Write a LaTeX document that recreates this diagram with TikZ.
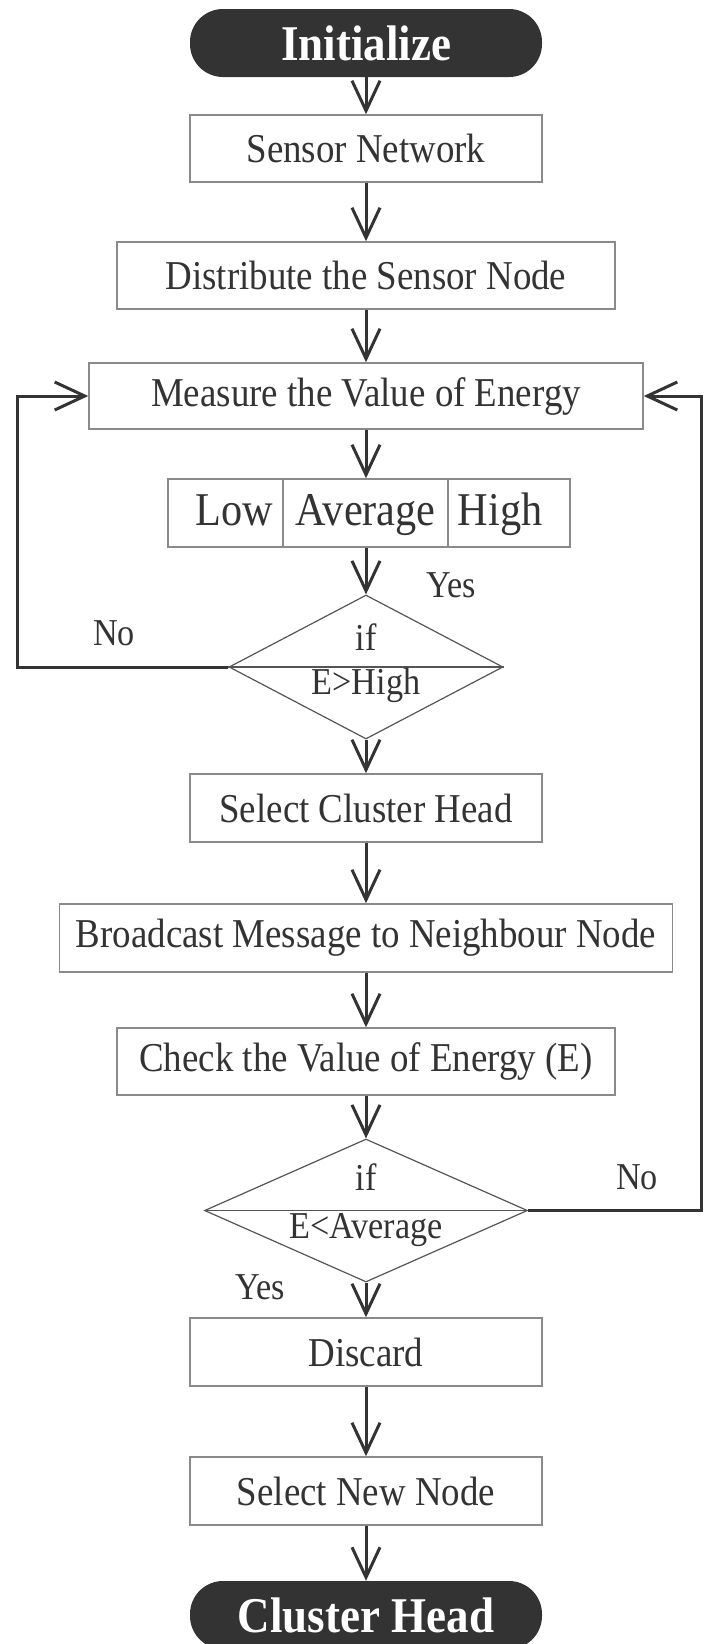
\documentclass[tikz,border=0pt]{standalone}
\usepackage{fontspec}
\setmainfont{Liberation Serif}[FakeStretch=0.9]
\usetikzlibrary{arrows.meta,shapes.geometric}
\definecolor{ink}{HTML}{333333}
\definecolor{boxline}{HTML}{8A8A8A}
\definecolor{dline}{HTML}{555555}
\begin{document}
\begin{tikzpicture}[x=1pt,y=-1pt,
  box/.style={draw=boxline, line width=1.5pt, fill=white, text=ink, minimum height=67pt, inner sep=0pt, font=\fontsize{41}{48}\selectfont},
  cell/.style={draw=boxline, line width=1.5pt, fill=white, text=ink, minimum height=68pt, inner sep=0pt, text height=24pt, text depth=0pt, font=\fontsize{47}{54}\selectfont},
  pill/.style={fill=ink, rounded corners=33pt, text=white, minimum width=352pt, minimum height=68pt, inner sep=0pt, font=\fontsize{50}{58}\selectfont\bfseries},
  dec/.style={diamond, draw=dline, line width=1.2pt, inner sep=0pt},
  lbl/.style={text=ink, inner sep=0pt, font=\fontsize{38}{44}\selectfont},
  flow/.style={draw=ink, line width=3pt, -{Straight Barb[length=30pt,width=28pt]}},
]
\useasboundingbox (0,0) rectangle (709,1644);
\clip (0,0) rectangle (709,1644);

\node[pill] (init) at (366,43) {Initialize};
\node[box, minimum width=352pt] (sn) at (366,148.5) {Sensor Network};
\node[box, minimum width=498pt] (dist) at (366,275.5) {Distribute the Sensor Node};
\node[box, minimum width=554pt, minimum height=66pt] (meas) at (366,396) {Measure the Value of Energy};

\node[cell, minimum width=115pt] (low) at (225.5,513) {\hspace*{17pt}Low};
\node[cell, minimum width=165pt] (avg) at (365.5,513) {Average};
\node[cell, minimum width=122pt] (high) at (509,513) {High\hspace*{18pt}};

\node[dec, minimum width=274pt, minimum height=144pt] (d1) at (366,667) {};
\draw[dline, line width=1.2pt] (d1.west) -- (d1.east);
\node[lbl] (if1) at (366,637) {if};
\node[lbl] (c1) at (366,685) {E>High};

\node[box, minimum width=352pt, minimum height=68pt] (sch) at (366,808) {Select Cluster Head};
\node[box, minimum width=613pt, minimum height=68pt] (bc) at (366,938) {Broadcast Message to Neighbour Node};
\node[box, minimum width=498pt] (chk) at (366,1061.5) {Check the Value of Energy (E)};

\node[dec, minimum width=323pt, minimum height=143pt] (d2) at (366,1210.5) {};
\draw[dline, line width=1.2pt] (d2.west) -- (d2.east);
\node[lbl] (if2) at (366,1177) {if};
\node[lbl] (c2) at (366,1230) {E<Average};

\node[box, minimum width=352pt, minimum height=68pt] (disc) at (366,1352) {Discard};
\node[box, minimum width=352pt, minimum height=68pt] (snn) at (366,1491) {Select New Node};
\node[pill] (ch) at (366,1615) {Cluster Head};

\node[lbl] (yes1) at (451,585) {Yes};
\node[lbl] (no1) at (114,633) {No};
\node[lbl] (no2) at (637,1177) {No};
\node[lbl] (yes2) at (260,1287) {Yes};

\coordinate (lc) at (17,0);
\coordinate (rc) at (701,0);

\draw[flow] (init) -- (sn);
\draw[flow] (sn) -- (dist);
\draw[flow] (dist) -- (meas);
\draw[flow] (meas.south) -- (meas.south |- avg.north);
\draw[flow] (meas.south |- avg.south) -- (d1.north);
\draw[flow] (d1) -- (sch);
\draw[flow] (sch) -- (bc);
\draw[flow] (bc) -- (chk);
\draw[flow] (chk) -- (d2.north);
\draw[flow] (d2.south) -- (disc);
\draw[flow] (disc) -- (snn);
\draw[flow] (snn) -- (ch);

\draw[flow] (d1.west) -- (d1.west -| lc) |- (meas.west);
\draw[flow] (d2.east) -- (d2.east -| rc) |- (meas.east);
\end{tikzpicture}
\end{document}
